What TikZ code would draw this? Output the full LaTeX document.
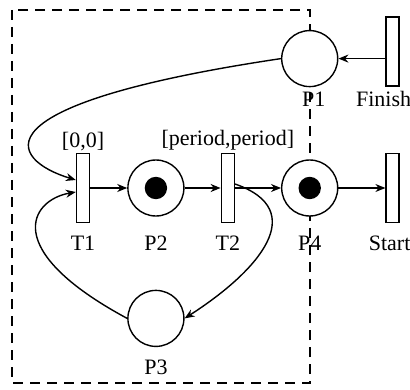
\documentclass[tikz,border=0pt]{standalone}
\usepackage{fontspec}
\setmainfont{Liberation Serif}
\usetikzlibrary{arrows.meta,positioning}

\begin{document}
\begin{tikzpicture}[
    x=0.5pt, y=-0.5pt,
    node distance=18pt,
    font=\fontsize{10.5}{12}\selectfont,
    place/.style={draw, circle, fill=white, line width=0.7pt, minimum size=28pt, inner sep=0pt},
    marked/.style={place, path picture={\fill[black] (path picture bounding box.center) circle (5.6pt);}},
    trans/.style={draw, rectangle, fill=white, line width=0.7pt, minimum width=6.5pt, minimum height=34.5pt, inner sep=0pt},
    flow/.style={-{Stealth[length=5pt,width=4pt]}, line width=0.7pt},
    lbl/.style={font=\fontsize{11}{12}\selectfont, inner sep=1pt}
  ]
    \useasboundingbox (0,0) rectangle (410,389);

    % dashed boundary of the sub net
    \draw[dash pattern=on 5pt off 3.5pt, line width=0.7pt] (12,10) rectangle (310,383);

    \node[trans, label={[lbl, label distance=0pt]above:{[0,0]}}, label={[lbl, label distance=5pt]below:T1}] (t1) at (83,188) {};
    \node[marked, right=18.5pt of t1, label={[lbl, label distance=8.5pt]below:P2}] (p2) {};
    \node[trans, right=18pt of p2, label={[lbl, label distance=0pt]above:{[period,period]}}, label={[lbl, label distance=5pt]below:T2}] (t2) {};
    \node[marked, right=23pt of t2, label={[lbl, label distance=8.5pt]below:P4}] (p4) {};
    \node[trans, right=23.5pt of p4, label={[lbl, label distance=5pt, xshift=-1.5pt]below:Start}] (start) {};
    \node[place, above=36pt of p4, label={[lbl, label distance=1pt, xshift=2pt]below:P1}] (p1) {};
    \node[trans, right=23.5pt of p1, yshift=3.5pt, label={[lbl, label distance=1pt, xshift=-4.5pt]below:Finish}] (finish) {};
    \node[place, below=36.5pt of p2, label={[lbl, label distance=5pt]below:P3}] (p3) {};

    \draw[flow] (t1) -- (p2);
    \draw[flow] (p2) -- (t2);
    \draw[flow] (t2) -- (p4);
    \draw[flow] (p4) -- (start);
    \draw[flow] (finish.west |- p1.east) -- (p1);

    % loops back to T1 and into P3
    \draw[flow] (p1.west) .. controls (-30,105) and (10,160) .. ([yshift=4pt]t1.west);
    \draw[flow] (p3.west) .. controls (0,250) and (30,200) .. ([yshift=-2pt]t1.west);
    \draw[flow] ([yshift=2pt]t2.east) .. controls (310,210) and (260,270) .. (p3.east);
  \end{tikzpicture}
\end{document}
